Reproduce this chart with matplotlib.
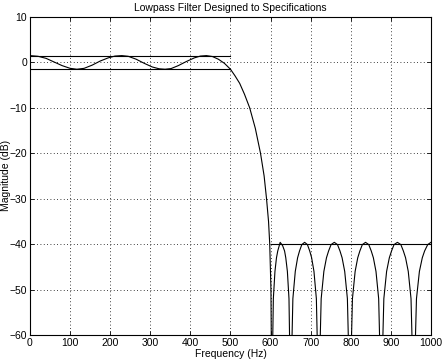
import matplotlib
matplotlib.use("Agg")
import matplotlib.pyplot as plt

# значения (частота в Гц, уровень в дБ)
freq_hz = [
    0, 20, 40, 60, 80, 100, 117, 135, 155, 175, 195, 212, 229,
    245, 265, 285, 305, 322, 337, 352, 370, 390, 410, 425, 440,
    455, 470, 485, 500, 511, 523, 535, 548, 562, 575, 584, 590, 595, 598,
    601, 603, 607, 611, 614.8, 618, 624, 630, 635, 638, 642, 646,
    650, 655.7, 661.7, 667.5, 672.3, 678, 685, 692, 697.7, 702.5, 708.3, 714.3,
    720, 726.3, 733, 739.5, 744.8, 751, 759, 767, 773.2, 778.5, 785, 791.7,
    798, 804.3, 811, 817.5, 822.8, 829, 837, 845, 851.2, 856.5, 863, 869.7,
    876, 882.6, 889.5, 896.3, 901.8, 908, 916.5, 925, 931.3, 936.8, 943.5, 950.4,
    957, 964, 971.3, 978.5, 984.3, 992, 1000,
]
mag_db = [
    1.5, 1.35, 0.9, 0.1, -0.7, -1.3, -1.5, -1.3, -0.6, 0.3, 1.0, 1.4, 1.5,
    1.35, 0.7, -0.2, -1.0, -1.4, -1.5, -1.35, -0.7, 0.2, 1.0, 1.4, 1.5,
    1.3, 0.7, -0.2, -1.5, -2.9, -4.6, -7.0, -10, -14.5, -20, -25, -30, -35, -40,
    -50, -75, -52, -46, -43, -41.5, -39.6, -40.3, -41.5, -43, -46, -52,
    -75, -52, -46, -43, -41.5, -40.1, -39.6, -40.1, -41.5, -43, -46, -52,
    -75, -52, -46, -43, -41.5, -40.1, -39.6, -40.1, -41.5, -43, -46, -52,
    -75, -52, -46, -43, -41.5, -40.1, -39.6, -40.1, -41.5, -43, -46, -52,
    -75, -52, -46, -43, -41.5, -40.1, -39.6, -40.1, -41.5, -43, -46, -52,
    -75, -52, -46, -43, -41.5, -40.1, -39.6,
]

# линии спецификации
pass_edge = 500
stop_edge = 600
ripple_db = 1.5
stop_db = -40

x_ticks = list(range(0, 1001, 100))
y_ticks = list(range(-60, 11, 10))

plt.rcParams["font.family"] = ["Liberation Sans", "DejaVu Sans"]
plt.rcParams["font.size"] = 7.5

fig = plt.figure(figsize=(4.43, 3.6), dpi=100)
ax = fig.add_axes([0.0677, 0.0694, 0.905, 0.8834])

ax.plot(freq_hz, mag_db, color="black", linewidth=0.8)
ax.plot([0, pass_edge], [ripple_db, ripple_db], color="black", linewidth=0.8)
ax.plot([0, pass_edge], [-ripple_db, -ripple_db], color="black", linewidth=0.8)
ax.plot([stop_edge, 1000], [stop_db, stop_db], color="black", linewidth=0.8)

ax.set_xlim(0, 1000)
ax.set_ylim(-60, 10)
ax.set_xticks(x_ticks)
ax.set_yticks(y_ticks)
ax.tick_params(direction="in", length=3, width=0.6, top=True, right=True, pad=2)
for side in ax.spines.values():
    side.set_linewidth(0.8)
ax.grid(True, color="black", linestyle=(0, (1, 3)), linewidth=0.6)

ax.set_xlabel("Frequency (Hz)", labelpad=1)
# подпись оси Y ставим вручную, иначе обрезается слева
fig.text(0.014, 0.514, "Magnitude (dB)", rotation=90, ha="center", va="center")
ax.set_title("Lowpass Filter Designed to Specifications", fontsize=7.5, pad=4)

fig.savefig("out.png", dpi=100)
